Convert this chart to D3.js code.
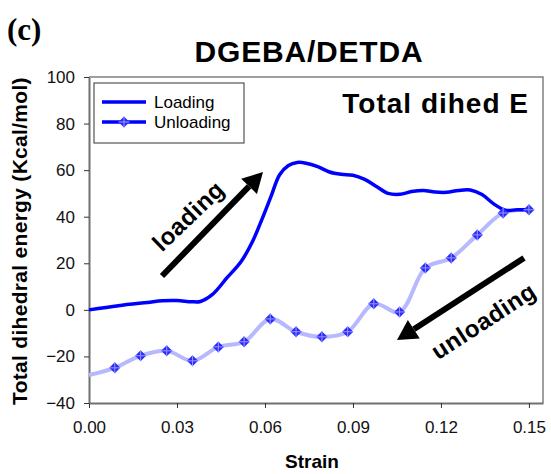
<!DOCTYPE html>
<html lang="en">
<head>
    <meta charset="utf-8">
    <title>DGEBA/DETDA total dihedral energy</title>
    <script src="https://d3js.org/d3.v7.min.js"></script>
    <style>
        body { margin: 0; background: #fff; }
        text { font-family: 'Liberation Sans', Arial, sans-serif; }
    </style>
</head>
<body>
<svg id="chart" width="551" height="474"></svg>
<script>
// loading curve (strain, energy)
const loadStrain = [0, 0.01, 0.02, 0.025, 0.03, 0.035, 0.038, 0.042, 0.047, 0.052, 0.056, 0.059, 0.062, 0.065, 0.068, 0.071, 0.074, 0.078, 0.082, 0.086, 0.09, 0.094, 0.098, 0.102, 0.106, 0.11, 0.114, 0.118, 0.122, 0.126, 0.13, 0.134, 0.138, 0.142, 0.146, 0.15];
const loadEnergy = [0, 1.8, 3.2, 3.9, 4, 3.5, 3.6, 6.5, 13.7, 21, 30, 39, 48.5, 58, 62, 63.3, 63, 61.5, 59.2, 58.2, 57.8, 56, 53, 50, 49.6, 50.8, 51.3, 50.6, 50.5, 51.3, 51.5, 49.5, 45.5, 42.8, 43, 43];

// unloading curve (markers)
const unloadStrain = [0, 0.0088, 0.0176, 0.0265, 0.0353, 0.0441, 0.0529, 0.0618, 0.0706, 0.0794, 0.0882, 0.0971, 0.1059, 0.1147, 0.1235, 0.1324, 0.1412, 0.15];
const unloadEnergy = [-28, -24.9, -19.7, -17.6, -21.9, -15.9, -13.7, -3.9, -9.4, -11.6, -9.4, 2.6, -0.9, 18, 22.3, 32.2, 41.6, 43];

const xTicks = [0, 0.03, 0.06, 0.09, 0.12, 0.15];
const yTicks = [-40, -20, 0, 20, 40, 60, 80, 100];

const margin = {top: 77, right: 8, bottom: 71, left: 89},
    width = 551 - margin.left - margin.right,
    height = 474 - margin.top - margin.bottom;

const svg = d3.select("#chart");
const chart = svg.append("g")
    .attr("transform", "translate(" + margin.left + "," + margin.top + ")");

const xScale = d3.scaleLinear().domain([0, 0.1548]).range([0, width]);
const yScale = d3.scaleLinear().domain([-40, 100]).range([height, 0]);

// plot frame (top + right)
chart.append("path")
    .attr("d", "M0,0H" + width + "V" + height)
    .attr("fill", "none")
    .attr("stroke", "#808080")
    .attr("stroke-width", 1.5);

// axes
const xAxis = chart.append("g")
    .attr("transform", "translate(0," + height + ")")
    .call(d3.axisBottom(xScale).tickValues(xTicks).tickFormat(d3.format(".2f"))
        .tickSizeInner(5).tickSizeOuter(0).tickPadding(13));
const yAxis = chart.append("g")
    .call(d3.axisLeft(yScale).tickValues(yTicks).tickFormat(d3.format("d"))
        .tickSizeInner(5).tickSizeOuter(0).tickPadding(9));
[xAxis, yAxis].forEach(a => {
    a.select(".domain").attr("stroke", "#707070").attr("stroke-width", 2);
    a.selectAll(".tick line").attr("stroke", "#333");
    a.selectAll(".tick text")
        .attr("fill", "#111")
        .style("font-size", "17px")
        .style("font-family", "'Liberation Sans', Arial, sans-serif");
});

// lines
const loadData = loadStrain.map((s, i) => [s, loadEnergy[i]]);
const unloadData = unloadStrain.map((s, i) => [s, unloadEnergy[i]]);

const line = d3.line()
    .x(d => xScale(d[0]))
    .y(d => yScale(d[1]))
    .curve(d3.curveCatmullRom.alpha(0.5));

chart.append("path")
    .datum(unloadData)
    .attr("d", line)
    .attr("fill", "none")
    .attr("stroke", "#b8b8ff")
    .attr("stroke-width", 4);

chart.append("path")
    .datum(loadData)
    .attr("d", line)
    .attr("fill", "none")
    .attr("stroke", "#0000ff")
    .attr("stroke-width", 3.5);

// diamond markers with a light cross
function marker(g, cx, cy) {
    const r = 5.5;
    g.append("path")
        .attr("d", "M" + cx + "," + (cy - r) + "L" + (cx + r) + "," + cy + "L" + cx + "," + (cy + r) + "L" + (cx - r) + "," + cy + "Z")
        .attr("fill", "#2a2aff");
    g.append("path")
        .attr("d", "M" + (cx - r) + "," + cy + "H" + (cx + r) + "M" + cx + "," + (cy - r) + "V" + (cy + r))
        .attr("stroke", "#9a9aff")
        .attr("stroke-width", 1);
}
const markers = chart.append("g");
unloadData.slice(1).forEach(d => marker(markers, xScale(d[0]), yScale(d[1])));

// arrows with labels
function arrow(x1, y1, x2, y2) {
    const ang = Math.atan2(y2 - y1, x2 - x1);
    const hl = 20, hw = 11;
    const bx = x2 - hl * Math.cos(ang), by = y2 - hl * Math.sin(ang);
    svg.append("line")
        .attr("x1", x1).attr("y1", y1).attr("x2", bx).attr("y2", by)
        .attr("stroke", "#000").attr("stroke-width", 6);
    const px = -Math.sin(ang) * hw, py = Math.cos(ang) * hw;
    svg.append("path")
        .attr("d", "M" + x2 + "," + y2 + "L" + (bx + px) + "," + (by + py) + "L" + (bx - px) + "," + (by - py) + "Z")
        .attr("fill", "#000");
}
arrow(162, 276, 263, 172);
arrow(524, 258, 397, 340);

svg.append("text")
    .attr("transform", "translate(194,222) rotate(-44)")
    .attr("text-anchor", "middle")
    .style("font-size", "24px").style("font-weight", "bold").style("letter-spacing", "0.5px")
    .text("loading");
svg.append("text")
    .attr("transform", "translate(488,328) rotate(-33)")
    .attr("text-anchor", "middle")
    .style("font-size", "24px").style("font-weight", "bold").style("letter-spacing", "0.5px")
    .text("unloading");

// legend
const legend = svg.append("g");
legend.append("rect")
    .attr("x", 94).attr("y", 83).attr("width", 150).attr("height", 60)
    .attr("fill", "#fff").attr("stroke", "#333").attr("stroke-width", 1);
legend.append("line")
    .attr("x1", 102).attr("x2", 146).attr("y1", 102).attr("y2", 102)
    .attr("stroke", "#0000ff").attr("stroke-width", 3.5);
legend.append("line")
    .attr("x1", 102).attr("x2", 146).attr("y1", 122).attr("y2", 122)
    .attr("stroke", "#0000ff").attr("stroke-width", 3.5);
marker(legend, 124, 122);
legend.append("text").attr("x", 154).attr("y", 108).style("font-size", "17px").text("Loading");
legend.append("text").attr("x", 154).attr("y", 128).style("font-size", "17px").text("Unloading");

// titles
svg.append("text")
    .attr("x", 7).attr("y", 40)
    .style("font-family", "'Liberation Serif', 'Times New Roman', serif")
    .style("font-size", "31px").style("font-weight", "bold")
    .text("(c)");
svg.append("text")
    .attr("x", 309).attr("y", 62)
    .attr("text-anchor", "middle")
    .style("font-size", "30px").style("font-weight", "bold").style("letter-spacing", "0.8px")
    .text("DGEBA/DETDA");
svg.append("text")
    .attr("x", 529).attr("y", 113)
    .attr("text-anchor", "end")
    .style("font-size", "28px").style("font-weight", "bold").style("letter-spacing", "1px")
    .text("Total dihed E");
svg.append("text")
    .attr("x", 312).attr("y", 468)
    .attr("text-anchor", "middle")
    .style("font-size", "19px").style("font-weight", "bold")
    .text("Strain");
svg.append("text")
    .attr("transform", "translate(27,241) rotate(-90)")
    .attr("text-anchor", "middle")
    .style("font-size", "21px").style("font-weight", "bold").style("letter-spacing", "0.3px")
    .text("Total dihedral energy (Kcal/mol)");
</script>
</body>
</html>
